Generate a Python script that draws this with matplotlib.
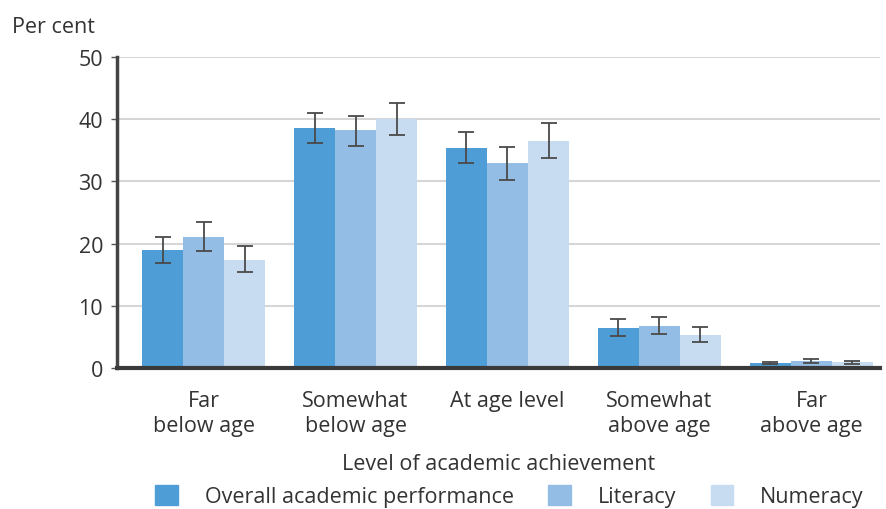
import matplotlib.pyplot as plt
import numpy as np
from matplotlib.patches import Patch

plt.rcParams['font.family'] = ['Open Sans', 'DejaVu Sans']

# Data
categories = ["Far\nbelow age", "Somewhat\nbelow age", "At age level",
              "Somewhat\nabove age", "Far\nabove age"]
series = ["Overall academic performance", "Literacy", "Numeracy"]
overall = [19.0, 38.6, 35.4, 6.4, 0.8]
literacy = [21.1, 38.2, 32.9, 6.8, 1.1]
numeracy = [17.4, 40.0, 36.5, 5.3, 0.9]
overall_lo = [16.8, 36.1, 32.9, 5.2, 0.6]
overall_hi = [21.0, 41.0, 38.0, 7.8, 0.9]
literacy_lo = [18.8, 35.6, 30.2, 5.5, 0.8]
literacy_hi = [23.5, 40.5, 35.5, 8.2, 1.5]
numeracy_lo = [15.4, 37.4, 33.8, 4.1, 0.6]
numeracy_hi = [19.6, 42.6, 39.3, 6.6, 1.1]

colors = ["#4f9dd6", "#93bde4", "#c7dcf0"]
text_col = "#333333"
fs = 15.5

fig = plt.figure(figsize=(8.86, 5.10), dpi=100)
ax = fig.add_axes([0.132, 0.2765, 0.861, 0.61])

x = np.arange(len(categories))
w = 0.27
vals = [overall, literacy, numeracy]
los = [overall_lo, literacy_lo, numeracy_lo]
his = [overall_hi, literacy_hi, numeracy_hi]
for i in range(3):
    pos = x + (i - 1) * w
    v = np.array(vals[i])
    err = [v - np.array(los[i]), np.array(his[i]) - v]
    ax.bar(pos, v, width=w, color=colors[i], zorder=2)
    ax.errorbar(pos, v, yerr=err, fmt='none', ecolor="#4a4a4a",
                elinewidth=1.3, capsize=5.5, capthick=1.3, zorder=3)

ax.set_xlim(-0.57, 4.45)
ax.set_ylim(0, 50)
ax.set_yticks(range(0, 51, 10))
ax.set_xticks(x)
ax.set_xticklabels(categories, fontsize=fs, color=text_col, linespacing=1.25)
ax.tick_params(axis='x', length=0, pad=16)
ax.tick_params(axis='y', labelsize=fs, labelcolor=text_col, length=4,
               width=1, color="#555555", pad=6)
ax.yaxis.grid(True, color="#d4d6d8", linewidth=1.5, zorder=0)
ax.set_axisbelow(True)
for s in ["top", "right"]:
    ax.spines[s].set_visible(False)
ax.spines["left"].set_linewidth(2.5)
ax.spines["left"].set_color("#444444")
ax.spines["bottom"].set_linewidth(3)
ax.spines["bottom"].set_color("#3a3a3a")

ax.set_xlabel("Level of academic achievement", fontsize=fs, color=text_col,
              labelpad=12)
fig.text(0.014, 0.935, "Per cent", fontsize=fs, color=text_col)

handles = [Patch(color=c) for c in colors]
fig.legend(handles, series, loc="lower center", bbox_to_anchor=(0.575, -0.035),
           ncol=3, frameon=False, fontsize=fs, handlelength=1.05,
           handleheight=1.0, handletextpad=1.25, columnspacing=1.6,
           labelcolor=text_col)

fig.savefig("out.png", dpi=100)
